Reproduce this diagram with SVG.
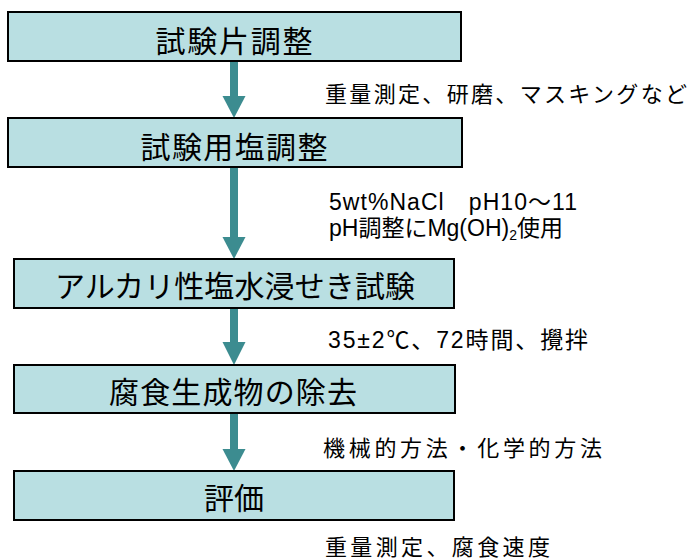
<svg xmlns="http://www.w3.org/2000/svg" width="688" height="560" viewBox="0 0 688 560">
<style>
.box{fill:#B9DFE2;stroke:#000;stroke-width:2}
.title{font-family:"Noto Sans CJK JP","Liberation Sans",sans-serif;font-size:30px;fill:#000;text-anchor:middle}
.note{font-family:"Liberation Sans","Noto Sans CJK JP",sans-serif;font-size:22px;fill:#000}
.lat{font-size:23px}
.shaft{fill:#3C8C90}
</style>
<rect width="688" height="560" fill="#fff"/>
<g id="connectors">
<rect class="shaft" x="230" y="61" width="8" height="36"/><polygon class="shaft" points="222.5,96 245.5,96 234,118"/>
<rect class="shaft" x="230" y="167" width="8" height="71"/><polygon class="shaft" points="222.5,237 245.5,237 234,259"/>
<rect class="shaft" x="230" y="308" width="8" height="35"/><polygon class="shaft" points="222.5,342 245.5,342 234,365"/>
<rect class="shaft" x="230" y="413" width="8" height="37"/><polygon class="shaft" points="222.5,449 245.5,449 234,471"/>
</g>
<g id="n1"><rect class="box" x="8" y="12" width="453" height="49"/><text class="title" x="234" y="52" textLength="157">試験片調整</text></g>
<g id="n2"><rect class="box" x="8" y="118" width="454" height="49"/><text class="title" x="234" y="158" textLength="187">試験用塩調整</text></g>
<g id="n3"><rect class="box" x="14" y="259" width="440" height="49"/><text class="title" x="235" y="297" textLength="360">アルカリ性塩水浸せき試験</text></g>
<g id="n4"><rect class="box" x="14" y="365" width="441" height="48"/><text class="title" x="233" y="403" textLength="248">腐食生成物の除去</text></g>
<g id="n5"><rect class="box" x="14" y="471" width="440" height="49"/><text class="title" x="234" y="509">評価</text></g>
<g id="notes">
<text class="note" x="325" y="102" textLength="362">重量測定、研磨、マスキングなど</text>
<text class="note lat" x="329" y="210" textLength="248" xml:space="preserve">5wt%NaCl　pH10～11</text>
<text class="note lat" x="329" y="236">pH調整にMg(OH)<tspan font-size="14" dy="4">2</tspan><tspan dy="-4">使用</tspan></text>
<text class="note lat" x="328" y="348" textLength="260">35±2℃、72時間、攪拌</text>
<text class="note" x="323" y="456" textLength="279">機械的方法・化学的方法</text>
<text class="note" x="325" y="555" textLength="225">重量測定、腐食速度</text>
</g>
</svg>
